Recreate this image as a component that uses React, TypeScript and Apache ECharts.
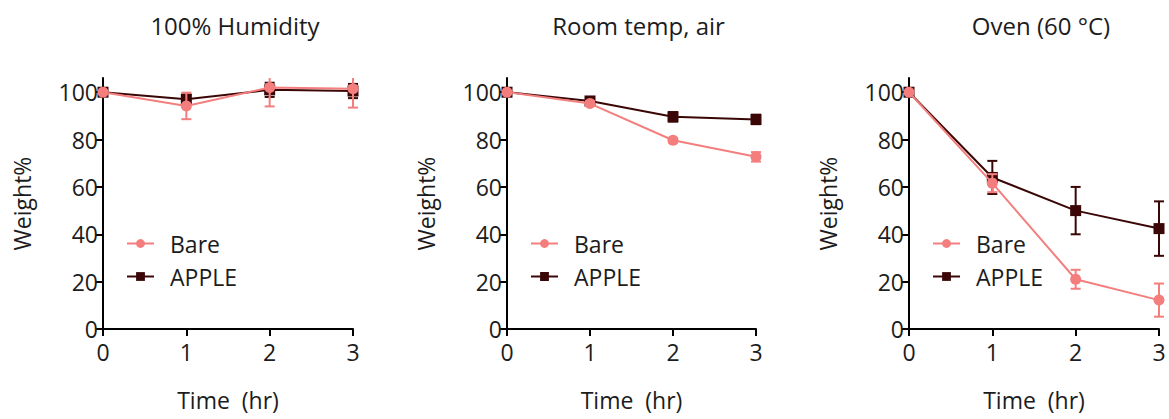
import React, { useEffect, useRef } from "react";
import * as echarts from "echarts";

const hours = [0, 1, 2, 3];
const yTicks = [0, 20, 40, 60, 80, 100];
const Y_MAX = 106;
const panelTitles = ["100% Humidity", "Room temp, air", "Oven (60 °C)"];

const humidityBare = [100, 94.2, 102, 101.5];
const humidityBareErr = [0, 5.6, 8, 8];
const humidityApple = [100, 97, 101, 100.5];
const humidityAppleErr = [0, 2, 3, 3];

const roomBare = [100, 95.2, 79.7, 72.7];
const roomBareErr = [0, 1, 1, 2];
const roomApple = [100, 96.3, 89.6, 88.5];
const roomAppleErr = [0, 1, 2, 2];

const ovenBare = [100, 61.6, 21, 12.2];
const ovenBareErr = [0, 3.8, 4, 7];
const ovenApple = [100, 64, 50, 42.4];
const ovenAppleErr = [0, 7, 10, 11.5];

const BARE = "#F47E7E";
const APPLE = "#3A0606";
const TEXT = "#1c1c1c";
const FONT = "'Open Sans', 'Noto Sans', sans-serif";

const panels = [
  { bare: humidityBare, bareErr: humidityBareErr, apple: humidityApple, appleErr: humidityAppleErr },
  { bare: roomBare, bareErr: roomBareErr, apple: roomApple, appleErr: roomAppleErr },
  { bare: ovenBare, bareErr: ovenBareErr, apple: ovenApple, appleErr: ovenAppleErr },
];

const gridLefts = [103, 507, 909];
const gridWidths = [250, 249, 250];
const GRID_TOP = 78;
const GRID_H = 251;

function errRender(color: string) {
  return (params: any, api: any) => {
    const x = api.value(0);
    const lo = api.value(1);
    const rawHi = api.value(2);
    const clipped = rawHi > Y_MAX;
    const hi = clipped ? Y_MAX : rawHi;
    const p1 = api.coord([x, lo]);
    const p2 = api.coord([x, hi]);
    const w = 5;
    const style = { stroke: color, lineWidth: 2 };
    const children: any[] = [
      { type: "line", shape: { x1: p1[0], y1: p1[1], x2: p2[0], y2: p2[1] }, style },
      { type: "line", shape: { x1: p1[0] - w, y1: p1[1], x2: p1[0] + w, y2: p1[1] }, style },
    ];
    if (!clipped) {
      children.push({ type: "line", shape: { x1: p2[0] - w, y1: p2[1], x2: p2[0] + w, y2: p2[1] }, style });
    }
    return { type: "group", children };
  };
}

function errData(vals: number[], errs: number[]) {
  return hours
    .map((h, i) => [h, vals[i] - errs[i], vals[i] + errs[i], errs[i]])
    .filter((d) => d[3] > 0)
    .map((d) => [d[0], d[1], d[2]]);
}

export default function App() {
  const ref = useRef<HTMLDivElement>(null);
  useEffect(() => {
    if (!ref.current) return;
    const chart = echarts.init(ref.current, undefined, { renderer: "svg" });
    const axisLine = { show: true, lineStyle: { color: "#000", width: 2 } };
    const axisTick = { show: true, length: 7, lineStyle: { color: "#000", width: 2 } };
    const labelStyle = { color: TEXT, fontSize: 23, fontFamily: FONT };

    const grids: any[] = [];
    const xAxes: any[] = [];
    const yAxes: any[] = [];
    const titles: any[] = [];
    const legends: any[] = [];
    const series: any[] = [];

    panels.forEach((p, i) => {
      grids.push({ left: gridLefts[i], top: GRID_TOP, width: gridWidths[i], height: GRID_H, containLabel: false });
      xAxes.push({
        type: "value",
        gridIndex: i,
        min: 0,
        max: 3,
        interval: 1,
        axisLine,
        axisTick,
        splitLine: { show: false },
        axisLabel: { ...labelStyle, margin: 11 },
        name: "Time  (hr)",
        nameLocation: "middle",
        nameGap: 59,
        nameTextStyle: { ...labelStyle },
      });
      yAxes.push({
        type: "value",
        gridIndex: i,
        min: 0,
        max: Y_MAX,
        axisLine,
        axisTick: { ...axisTick, customValues: yTicks },
        splitLine: { show: false },
        axisLabel: { ...labelStyle, margin: 5, customValues: yTicks },
        name: "Weight%",
        nameLocation: "middle",
        nameRotate: 90,
        nameGap: 70,
        nameTextStyle: { ...labelStyle },
      });
      titles.push({
        text: panelTitles[i],
        left: gridLefts[i] + gridWidths[i] / 2 + 2,
        top: 8,
        textAlign: "center",
        textStyle: { color: TEXT, fontSize: 24, fontWeight: "normal", fontFamily: FONT },
      });
      legends.push({
        data: ["Bare", "APPLE"],
        orient: "vertical",
        left: gridLefts[i] + 18,
        top: 227,
        itemWidth: 27,
        itemHeight: 11,
        itemGap: 10,
        selectedMode: false,
        textStyle: { color: TEXT, fontSize: 23, fontFamily: FONT, padding: [0, 0, 0, 11] },
      });
      series.push({
        name: "APPLE err",
        type: "custom",
        xAxisIndex: i,
        yAxisIndex: i,
        renderItem: errRender(APPLE),
        data: errData(p.apple, p.appleErr),
        z: 2,
      });
      series.push({
        name: "APPLE",
        type: "line",
        xAxisIndex: i,
        yAxisIndex: i,
        data: hours.map((h, k) => [h, p.apple[k]]),
        symbol: "rect",
        symbolSize: 11,
        color: APPLE,
        lineStyle: { color: APPLE, width: 2 },
        itemStyle: { color: APPLE },
        z: 3,
      });
      series.push({
        name: "Bare err",
        type: "custom",
        xAxisIndex: i,
        yAxisIndex: i,
        renderItem: errRender(BARE),
        data: errData(p.bare, p.bareErr),
        z: 4,
      });
      series.push({
        name: "Bare",
        type: "line",
        xAxisIndex: i,
        yAxisIndex: i,
        data: hours.map((h, k) => [h, p.bare[k]]),
        symbol: "circle",
        symbolSize: 11,
        color: BARE,
        lineStyle: { color: BARE, width: 2 },
        itemStyle: { color: BARE },
        z: 5,
      });
    });

    chart.setOption({
      animation: false,
      backgroundColor: "#ffffff",
      title: titles,
      legend: legends,
      grid: grids,
      xAxis: xAxes,
      yAxis: yAxes,
      series,
    });
    return () => chart.dispose();
  }, []);
  return (
    <div
      ref={ref}
      style={{ position: "fixed", left: 0, top: 0, width: 1169, height: 419, background: "#fff" }}
    />
  );
}
